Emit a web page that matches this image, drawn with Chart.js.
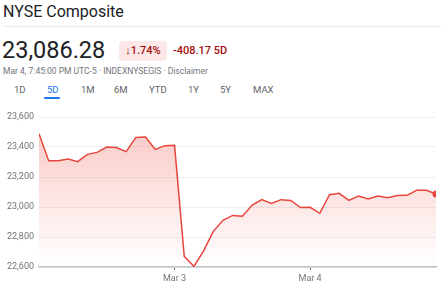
<!DOCTYPE html>
<html>
<head>
<meta charset="utf-8">
<script src="https://cdn.jsdelivr.net/npm/chart.js@4.4.1/dist/chart.umd.min.js"></script>
<style>
  body { margin: 0; width: 441px; height: 295px; overflow: hidden; background: #fff; font-family: Roboto, Arial, sans-serif; position: relative; }
  .abs { position: absolute; white-space: nowrap; }
  #title { left: 3px; top: 2px; font-size: 16px; color: #202124; }
  #sep { left: 3px; right: 0; top: 26px; height: 1px; background: #e8eaed; }
  #price { left: 2px; top: 36px; font-size: 23.5px; color: #202124; }
  #badge { left: 119px; top: 41px; width: 48px; height: 20px; border-radius: 4px; background: #fce8e6; color: #a50e0e; font-size: 11px; font-weight: 500; line-height: 20px; text-align: center; }
  #change { left: 173px; top: 44px; font-size: 11px; font-weight: 500; color: #a50e0e; }
  #sub { left: 3px; top: 66px; font-size: 8.5px; color: #70757a; }
  .tab { top: 84px; font-size: 9.5px; color: #5f6368; }
  #tab5d { color: #1a73e8; }
  #uline { left: 44px; top: 97px; width: 16px; height: 2px; border-radius: 1px; background: #1a73e8; }
  #wrap { position: absolute; left: 0; top: 100px; width: 441px; height: 195px; }
</style>
</head>
<body>
<div id="title" class="abs">NYSE Composite</div>
<div id="sep" class="abs"></div>
<div id="price" class="abs">23,086.28</div>
<div id="badge" class="abs">↓1.74%</div>
<div id="change" class="abs">-408.17 5D</div>
<div id="sub" class="abs">Mar 4, 7:45:00 PM UTC-5 · INDEXNYSEGIS · Disclaimer</div>
<div class="abs tab" style="left:14px">1D</div>
<div class="abs tab" id="tab5d" style="left:47px">5D</div>
<div class="abs tab" style="left:81px">1M</div>
<div class="abs tab" style="left:114px">6M</div>
<div class="abs tab" style="left:149px">YTD</div>
<div class="abs tab" style="left:188px">1Y</div>
<div class="abs tab" style="left:220px">5Y</div>
<div class="abs tab" style="left:253px">MAX</div>
<div id="uline" class="abs"></div>
<div id="wrap"><canvas id="myChart"></canvas></div>
<script>
// index level over the 5 day window
var prices = [
  23489, 23309, 23309, 23320, 23302, 23351, 23364, 23400, 23396, 23369,
  23464, 23467, 23384, 23409, 23411, 22671, 22604, 22707, 22838, 22911,
  22944, 22938, 23011, 23049, 23024, 23049, 23044, 22996, 22998, 22958,
  23082, 23091, 23044, 23073, 23053, 23073, 23062, 23076, 23078, 23111,
  23111, 23086.28
];
var dayLabels = ['Mar 3', 'Mar 4'];
var dayIndex = [14, 28];
var yTicks = [22600, 22800, 23000, 23200, 23400, 23600];

var ctx = document.getElementById('myChart').getContext('2d');
var points = prices.map(function(p, i) { return { x: i, y: p }; });

var chart = new Chart(ctx, {
    type: 'line',
    data: {
        datasets: [{
            data: points,
            borderColor: '#e8453c',
            borderWidth: 1.5,
            tension: 0,
            fill: 'start',
            backgroundColor: function(c) {
                var area = c.chart.chartArea;
                if (!area) return 'rgba(234,67,53,0.2)';
                var g = c.chart.ctx.createLinearGradient(0, area.top, 0, area.bottom);
                g.addColorStop(0, 'rgba(234,67,53,0.30)');
                g.addColorStop(1, 'rgba(234,67,53,0.0)');
                return g;
            },
            pointRadius: function(c) { return c.dataIndex === prices.length - 1 ? 3.5 : 0; },
            pointBackgroundColor: '#e8453c',
            pointBorderWidth: 0
        }]
    },
    options: {
        responsive: true,
        maintainAspectRatio: false,
        animation: false,
        layout: { padding: { top: 17, right: 5, left: 0, bottom: 0 } },
        plugins: { legend: { display: false }, tooltip: { enabled: false } },
        scales: {
            x: {
                type: 'linear',
                min: 0,
                max: prices.length - 1,
                afterBuildTicks: function(axis) {
                    axis.ticks = dayIndex.map(function(v) { return { value: v }; });
                },
                afterFit: function(axis) { axis.height = 28; },
                ticks: {
                    autoSkip: false,
                    maxRotation: 0,
                    padding: 3,
                    color: '#70757a',
                    font: { family: 'Roboto', size: 9 },
                    callback: function(v) { return dayLabels[dayIndex.indexOf(v)]; }
                },
                grid: { drawOnChartArea: false, tickLength: 3, tickColor: '#5f6368', tickWidth: 1 },
                border: { color: '#bdc1c6', width: 1.5 }
            },
            y: {
                min: 22600,
                max: 23600,
                afterBuildTicks: function(axis) {
                    axis.ticks = yTicks.map(function(v) { return { value: v }; });
                },
                afterFit: function(axis) { axis.width = 39; },
                ticks: {
                    padding: 5,
                    color: '#70757a',
                    font: { family: 'Roboto', size: 9 },
                    callback: function(v) { return v.toLocaleString('en-US'); }
                },
                grid: { color: '#eeeff1', drawTicks: false },
                border: { display: false }
            }
        }
    }
});
</script>
</body>
</html>
